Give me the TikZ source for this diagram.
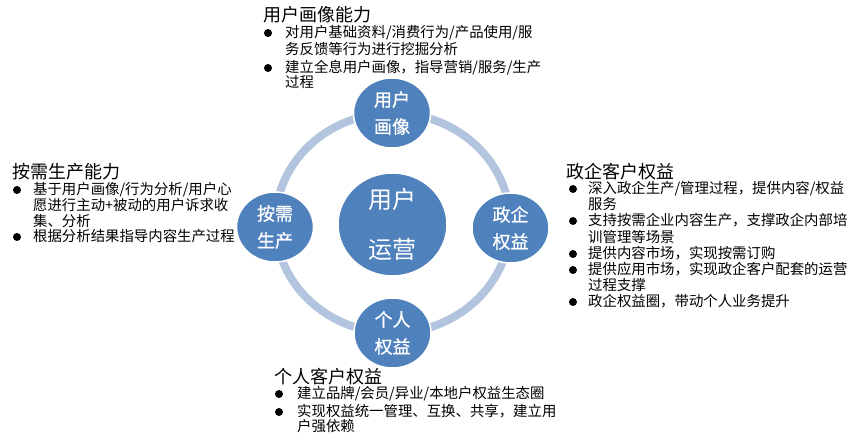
\documentclass[tikz,border=0pt]{standalone}
\usepackage{fontspec}
\newfontfamily\cjkfont{Noto Sans CJK SC}
\newfontfamily\cjkhubfont[FakeBold=0.8]{Noto Sans CJK SC}
\usetikzlibrary{shapes.geometric}
\definecolor{hubblue}{HTML}{4F81BD}
\definecolor{ringblue}{HTML}{B3C4DF}
\tikzset{
  hub/.style={ellipse, fill=hubblue, draw=white, line width=1.5pt, inner sep=0pt,
    text=white, align=center, font=\cjkhubfont\fontsize{18}{27}\selectfont,
    minimum width=77pt, minimum height=70pt},
  core/.style={hub, minimum width=109pt, minimum height=103pt,
    font=\cjkfont\fontsize{24}{50}\selectfont},
  heading/.style={anchor=base west, inner sep=0pt, font=\cjkfont\fontsize{18}{20}\selectfont},
  bodyline/.style={anchor=base west, inner sep=0pt, font=\cjkfont\fontsize{14.4}{16}\selectfont},
  bulletdot/.style={circle, fill=black, inner sep=0pt, minimum size=8pt},
  ring/.style={draw=ringblue, line width=8pt},
}
\begin{document}
\begin{tikzpicture}[x=1pt,y=-1pt]
\useasboundingbox (0,0) rectangle (852,443);

% ring linking the four capability circles
\coordinate (hubcentre) at (392.75,223);
\draw[ring] (hubcentre) ellipse [x radius=117.5pt, y radius=110pt];

% circles
\node[core] (core)   at (392.5,224.5) {用户\\运营};
\node[hub]  (top)    at (392,113)     {用户\\画像};
\node[hub]  (left)   at (275,227)     {按需\\生产};
\node[hub]  (right)  at (510.5,228)   {政企\\权益};
\node[hub]  (bottom) at (392.5,333)   {个人\\权益};

% user profiling block
\node[heading]  (topT)  at (263,22) {用户画像能力};
\node[bulletdot] (topB1) at (268,33) {};
\node[bodyline] (topL1) at (285,38) {对用户基础资料/消费行为/产品使用/服};
\node[bodyline] (topL2) at (285,55) {务反馈等行为进行挖掘分析};
\node[bulletdot] (topB2) at (268,68) {};
\node[bodyline] (topL3) at (285,73) {建立全息用户画像，指导营销/服务/生产};
\node[bodyline] (topL4) at (285,88) {过程};

% on-demand production block
\node[heading]  (leftT)  at (12,179) {按需生产能力};
\node[bulletdot] (leftB1) at (17,190) {};
\node[bodyline] (leftL1) at (33,195) {基于用户画像/行为分析/用户心};
\node[bodyline] (leftL2) at (33,211) {愿进行主动+被动的用户诉求收};
\node[bodyline] (leftL3) at (33,227) {集、分析};
\node[bulletdot] (leftB2) at (17,237) {};
\node[bodyline] (leftL4) at (33,242) {根据分析结果指导内容生产过程};

% government & enterprise block
\node[heading]  (rightT)  at (566,179) {政企客户权益};
\node[bulletdot] (rightB1) at (573,189) {};
\node[bodyline] (rightL1) at (588,194) {深入政企生产/管理过程，提供内容/权益};
\node[bodyline] (rightL2) at (588,210) {服务};
\node[bulletdot] (rightB2) at (573,221) {};
\node[bodyline] (rightL3) at (588,226) {支持按需企业内容生产，支撑政企内部培};
\node[bodyline] (rightL4) at (588,243) {训管理等场景};
\node[bulletdot] (rightB3) at (573,254) {};
\node[bodyline] (rightL5) at (588,259) {提供内容市场，实现按需订购};
\node[bulletdot] (rightB4) at (573,270) {};
\node[bodyline] (rightL6) at (588,275) {提供应用市场，实现政企客户配套的运营};
\node[bodyline] (rightL7) at (588,291) {过程支撑};
\node[bulletdot] (rightB5) at (573,302) {};
\node[bodyline] (rightL8) at (588,307) {政企权益圈，带动个人业务提升};

% personal customer block
\node[heading]  (botT)  at (274,384) {个人客户权益};
\node[bulletdot] (botB1) at (279,394) {};
\node[bodyline] (botL1) at (297,399) {建立品牌/会员/异业/本地户权益生态圈};
\node[bulletdot] (botB2) at (279,412) {};
\node[bodyline] (botL2) at (297,417) {实现权益统一管理、互换、共享，建立用};
\node[bodyline] (botL3) at (297,432) {户强依赖};
\end{tikzpicture}
\end{document}
